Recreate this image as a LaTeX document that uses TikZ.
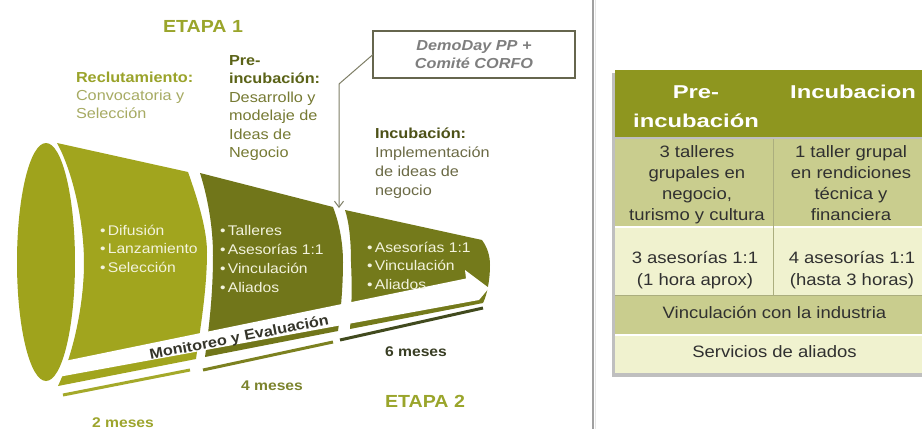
\documentclass[tikz,border=0pt]{standalone}
\usepackage{fontspec}
\setmainfont[FakeStretch=1.12]{Liberation Sans}
\newfontfamily\hdrfont[FakeStretch=1.28]{Liberation Sans}
\usetikzlibrary{arrows.meta}
\definecolor{segA}{HTML}{A1A51E}
\definecolor{ellC}{HTML}{9FA31C}
\definecolor{segB}{HTML}{71761A}
\definecolor{segC}{HTML}{747A1B}
\definecolor{lineA}{HTML}{A4A92A}
\definecolor{lineB}{HTML}{7C8120}
\definecolor{lineC}{HTML}{414A1E}
\definecolor{etapaC}{HTML}{9AA52B}
\definecolor{recC}{HTML}{9AA32A}
\definecolor{recBody}{HTML}{A7AB63}
\definecolor{preC}{HTML}{5B6317}
\definecolor{preBody}{HTML}{767A33}
\definecolor{incC}{HTML}{4D5117}
\definecolor{incBody}{HTML}{6B6A45}
\definecolor{bulC}{HTML}{F3F3DD}
\definecolor{monC}{HTML}{35352A}
\definecolor{mesA}{HTML}{9DA52D}
\definecolor{mesB}{HTML}{7C842E}
\definecolor{mesC}{HTML}{393E24}
\definecolor{demoTxt}{HTML}{7E7E7E}
\definecolor{boxC}{HTML}{66664E}
\definecolor{connC}{HTML}{7E7E66}
\definecolor{sepC}{HTML}{A0A0A0}
\definecolor{hdrC}{HTML}{8E961F}
\definecolor{rowD}{HTML}{C9CD8E}
\definecolor{rowL}{HTML}{F0F2CF}
\definecolor{colLine}{HTML}{ABAE7E}
\definecolor{tblTxt}{HTML}{303030}
\begin{document}
\begin{tikzpicture}[x=1pt,y=-1pt,
  every node/.style={inner sep=0pt,outer sep=0pt},
  etapa/.style={font=\bfseries\fontsize{17.5}{20}\selectfont,text=etapaC,anchor=base},
  ttl/.style={font=\bfseries\fontsize{14.5}{18}\selectfont,anchor=base west},
  body/.style={font=\fontsize{14.5}{18}\selectfont,anchor=base west},
  bul/.style={font=\fontsize{14}{18}\selectfont,anchor=base west,text=bulC},
  mes/.style={font=\bfseries\fontsize{14}{17}\selectfont,anchor=base},
  tline/.style={line width=3pt},
  conn/.style={draw=connC,line width=1pt,-{Straight Barb[length=6pt,width=9pt]}},
  hdr/.style={font=\hdrfont\bfseries\fontsize{18.6}{22}\selectfont,text=white,anchor=base},
  cell/.style={font=\fontsize{16.5}{20}\selectfont,text=tblTxt,anchor=base}]
\useasboundingbox (0,0) rectangle (922,429);
\fill[white] (0,0) rectangle (922,429);
\begin{scope}
\clip (0,0) rectangle (922,429);
% funnel segments
\fill[segA] (57,143) -- (188,172) .. controls (198,200) and (207,230) .. (207,252)
  .. controls (207,290) and (200,330) .. (196,359) -- (58,386)
  .. controls (75,350) and (84,300) .. (84,263) .. controls (84,220) and (72,170) .. (57,143) -- cycle;
\fill[segB] (200,173) -- (333,207) .. controls (340,225) and (343,245) .. (343,262)
  .. controls (343,285) and (341,310) .. (338,331) -- (205,357)
  .. controls (210,320) and (213,290) .. (213,255) .. controls (213,225) and (207,195) .. (200,173) -- cycle;
\fill[segC] (345,210) -- (482,240) .. controls (487,247) and (490,255) .. (490,265)
  .. controls (490,280) and (487,295) .. (483,303) -- (350,329)
  .. controls (352,300) and (352,285) .. (351,262) .. controls (351,240) and (349,222) .. (345,210) -- cycle;
% white arrow band
\fill[white] (50,364) -- (466,278.5) -- (465,270) -- (489,288) -- (479,300) -- (50,378.5) -- cycle;
% left cap
\fill[ellC] (46,262) ellipse [x radius=29pt, y radius=119pt];
% timeline lines
\draw[tline,lineA] (63,395) -- (190,370);
\draw[tline,lineB] (203,370) -- (333,342);
\draw[tline,lineC] (340,340) -- (483,308);
% table shadow and body
\fill[black!25] (612,73) rectangle (934,377);
\fill[hdrC] (615,70) rectangle (934,137);
\fill[rowD] (615,139) rectangle (934,227);
\fill[rowL] (615,227) rectangle (934,295);
\fill[rowD] (615,295) rectangle (934,335);
\fill[rowL] (615,335) rectangle (934,373);
\draw[white,line width=1.2pt] (615,227) -- (934,227) (615,335) -- (934,335);
\draw[colLine,line width=1pt] (615,295) -- (934,295);
\draw[colLine,line width=1pt] (773,139) -- (773,295);
\end{scope}
% separator
\draw[sepC,line width=1.6pt] (593,0) -- (593,429);
\draw[black!10,line width=1.5pt] (595.5,0) -- (595.5,429);
% titles
\node[etapa] (et1) at (203,32) {ETAPA 1};
\node[etapa] (et2) at (425,407) {ETAPA 2};
\node[ttl,text=recC] (rec) at (76,82) {Reclutamiento:};
\foreach \t [count=\i] in {Convocatoria y, Selección}
  \node[body,text=recBody] (recb\i) at (76,{82+18*\i}) {\t};
\node[ttl,text=preC] (pre1) at (229,65) {Pre-};
\node[ttl,text=preC] (pre2) at (229,83.5) {incubación:};
\foreach \t [count=\i] in {Desarrollo y, modelaje de, Ideas de, Negocio}
  \node[body,text=preBody] (preb\i) at (229,{83.5+18.6*\i}) {\t};
\node[ttl,text=incC] (inc) at (375,138) {Incubación:};
\foreach \t [count=\i] in {Implementación, de ideas de, negocio}
  \node[body,text=incBody] (incb\i) at (375,{138+19*\i}) {\t};
% bullets
\foreach \t [count=\i] in {Difusión, Lanzamiento, Selección}
  \node[bul] (sa\i) at (100,{235+18.5*(\i-1)}) {•\,\t};
\foreach \t [count=\i] in {Talleres, Asesorías 1:1, Vinculación, Aliados}
  \node[bul] (sb\i) at (220,{235+19*(\i-1)}) {•\,\t};
\foreach \t [count=\i] in {Asesorías 1:1, Vinculación, Aliados}
  \node[bul] (sc\i) at (367,{252+18.5*(\i-1)}) {•\,\t};
% monitoring label
\node[font=\bfseries\fontsize{14.5}{17}\selectfont,text=monC,anchor=base,rotate=11] (mon) at (240,342) {Monitoreo y Evaluación};
% durations
\node[mes,text=mesA] (m2) at (123,427) {2 meses};
\node[mes,text=mesB] (m4) at (272,390) {4 meses};
\node[mes,text=mesC] (m6) at (416,356) {6 meses};
% DemoDay box and connector
\node[draw=boxC,line width=1.2pt,minimum width=202pt,minimum height=47pt,align=center,
  font=\bfseries\itshape\fontsize{14.5}{18}\selectfont,text=demoTxt] (demo) at (474,54.5)
  {DemoDay PP +\\Comité CORFO};
\coordinate (kink) at (339,84);
\coordinate (gap) at (339,208);
\draw[conn] (demo.west) -- (kink) -- (gap);
% table text
\node[hdr] (h1a) at (696,98) {Pre-};
\node[hdr] (h1b) at (696,127) {incubación};
\node[hdr] (h2) at (853,98) {Incubacion};
\foreach \t [count=\i] in {3 talleres, grupales en, {negocio,}, turismo y cultura}
  \node[cell] (ra\i) at (697,{157+21.3*(\i-1)}) {\t};
\foreach \t [count=\i] in {1 taller grupal, en rendiciones, técnica y, financiera}
  \node[cell] (rb\i) at (851,{157+21.3*(\i-1)}) {\t};
\node[cell] (r2a1) at (695,263) {3 asesorías 1:1};
\node[cell] (r2a2) at (695,285) {(1 hora aprox)};
\node[cell] (r2b1) at (852,263) {4 asesorías 1:1};
\node[cell] (r2b2) at (852,285) {(hasta 3 horas)};
\node[cell] (r3) at (774.5,318) {Vinculación con la industria};
\node[cell] (r4) at (774.5,357) {Servicios de aliados};
\end{tikzpicture}
\end{document}
